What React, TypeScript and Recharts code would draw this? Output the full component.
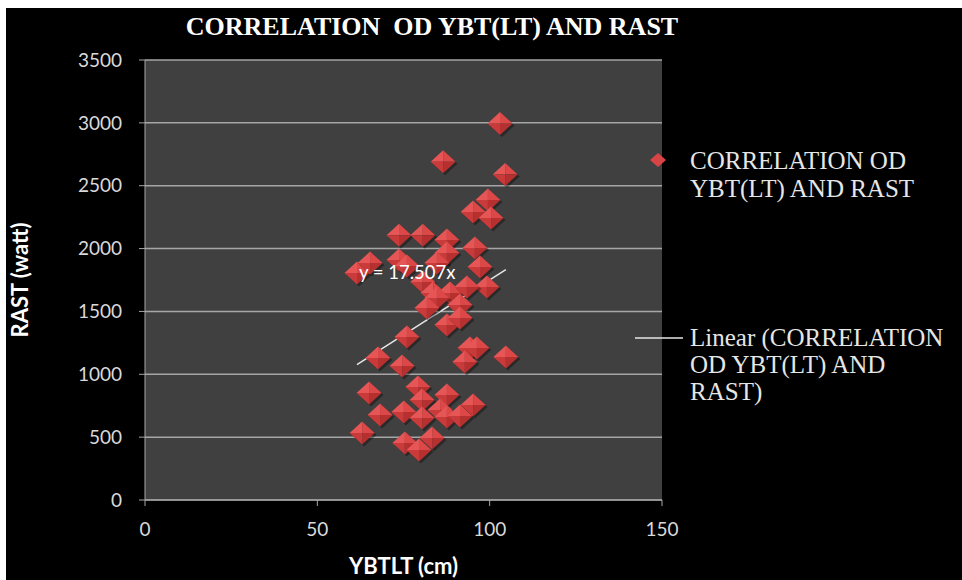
import React from 'react';
import { ScatterChart, Scatter, XAxis, YAxis, CartesianGrid, ReferenceLine, ReferenceDot, Legend } from 'recharts';

const ybtlt = [103, 86.5, 104.5, 99.5, 95.2, 100.4, 73.7, 80.6, 87.6, 87.6, 95.7, 61.5, 65.3, 73.7, 76, 84.7, 97.2, 80.6, 99.2, 83.6, 88.5, 93.4, 84.7, 81.8, 91.4, 87.6, 91.4, 76, 67.6, 74.6, 94.3, 96.3, 92.8, 104.7, 65, 79.2, 80.4, 87.6, 68.2, 75.1, 80.4, 85.6, 87.6, 91.4, 95.2, 63, 75.4, 83.3, 79.5];
const rast = [2995, 2690, 2590, 2387, 2291, 2243, 2105, 2105, 2068, 1965, 2005, 1806, 1885, 1909, 1861, 1885, 1853, 1734, 1694, 1647, 1647, 1694, 1607, 1527, 1551, 1392, 1448, 1297, 1130, 1066, 1209, 1209, 1098, 1138, 851, 899, 796, 835, 676, 700, 652, 716, 660, 668, 756, 533, 453, 493, 398];

const slope = 17.507;
const seriesName = 'CORRELATION OD YBT(LT) AND RAST';
const xTicks = [0, 50, 100, 150];
const yTicks = [0, 500, 1000, 1500, 2000, 2500, 3000, 3500];

const points = ybtlt.map((x, i) => ({ x, y: rast[i] }));
const xMin = Math.min(...ybtlt);
const xMax = Math.max(...ybtlt);

const Diamond = (props: any) => {
  const { cx, cy } = props;
  if (cx == null || cy == null) return null;
  const w = 12.5;
  const h = 11.5;
  return (
    <g>
      <polygon points={`${cx - w + 2},${cy + 2} ${cx + 2},${cy - h + 2} ${cx + w + 2},${cy + 2} ${cx + 2},${cy + h + 2}`} fill="rgba(0,0,0,0.35)" />
      <polygon points={`${cx - w},${cy} ${cx},${cy - h} ${cx},${cy}`} fill="#e65656" />
      <polygon points={`${cx},${cy - h} ${cx + w},${cy} ${cx},${cy}`} fill="#dc4848" />
      <polygon points={`${cx - w},${cy} ${cx},${cy} ${cx},${cy + h}`} fill="#c93a3a" />
      <polygon points={`${cx},${cy} ${cx + w},${cy} ${cx},${cy + h}`} fill="#b73030" />
    </g>
  );
};

const serif = '"Liberation Serif", "Times New Roman", serif';
const sans = 'Lato, "Open Sans", sans-serif';

const LegendContent = () => (
  <div style={{ position: 'relative', width: 0, height: 0 }}>
    <svg width={340} height={290} style={{ position: 'absolute', left: 0, top: 0, overflow: 'visible' }}>
      <g transform="translate(32,30)">
        <polygon points="-8,0 0,-7 8,0 0,7" fill="#d94444" />
      </g>
      <text x={64} y={39} fill="#e6e6e6" fontFamily={serif} fontSize={25}>CORRELATION OD</text>
      <text x={64} y={67} fill="#e6e6e6" fontFamily={serif} fontSize={25}>YBT(LT) AND RAST</text>
      <line x1={9} x2={57} y1={208} y2={208} stroke="#e6e6e6" strokeWidth={1.5} />
      <text x={64} y={216} fill="#e6e6e6" fontFamily={serif} fontSize={25}>Linear (CORRELATION</text>
      <text x={64} y={243} fill="#e6e6e6" fontFamily={serif} fontSize={25}>OD YBT(LT) AND</text>
      <text x={64} y={270} fill="#e6e6e6" fontFamily={serif} fontSize={25}>RAST)</text>
    </svg>
  </div>
);

export default function App() {
  return (
    <div style={{ position: 'absolute', left: 6, top: 8, width: 956, height: 572, background: '#000' }}>
      <div style={{ position: 'absolute', left: 0, top: 4, width: 852, textAlign: 'center', color: '#fff', fontFamily: serif, fontWeight: 'bold', fontSize: 26, zIndex: 2 }}>
        CORRELATION&nbsp; OD YBT(LT) AND RAST
      </div>
      <ScatterChart width={956} height={572} margin={{ top: 52, right: 300, bottom: 0, left: 0 }}>
        <CartesianGrid vertical={false} fill="#404040" stroke="#a6a6a6" strokeWidth={1.5} />
        <XAxis
          type="number"
          dataKey="x"
          domain={[0, 150]}
          ticks={xTicks}
          height={80}
          tickSize={6}
          tickMargin={17}
          stroke="#a6a6a6"
          tick={{ fill: '#d9d9d9', fontSize: 19, fontFamily: sans }}
          label={{ value: 'YBTLT (cm)', position: 'insideBottom', offset: 6, fill: '#fff', fontSize: 22, fontWeight: 'bold', fontFamily: sans }}
        />
        <YAxis
          type="number"
          dataKey="y"
          domain={[0, 3500]}
          ticks={yTicks}
          width={139}
          tickSize={6}
          tickMargin={17}
          stroke="#a6a6a6"
          tick={{ fill: '#d9d9d9', fontSize: 19, fontFamily: sans }}
          label={{ value: 'RAST (watt)', angle: -90, position: 'insideLeft', offset: 14, textAnchor: 'middle', fill: '#fff', fontSize: 22, fontWeight: 'bold', fontFamily: sans }}
        />
        <Legend
          layout="horizontal"
          verticalAlign="middle"
          align="center"
          content={LegendContent}
          wrapperStyle={{ position: 'absolute', left: 620, top: 122, width: 0, height: 0 }}
        />
        <Scatter name={seriesName} data={points} shape={Diamond} isAnimationActive={false} />
        <ReferenceLine
          segment={[{ x: xMin, y: slope * xMin }, { x: xMax, y: slope * xMax }]}
          stroke="#e6e6e6"
          strokeWidth={1.5}
        />
        <ReferenceDot
          x={61.5}
          y={1808}
          r={0}
          fill="none"
          stroke="none"
          label={{ value: 'y = 17.507x', position: 'right', offset: 2, fill: '#fff', fontSize: 18.5, fontFamily: sans }}
        />
      </ScatterChart>
    </div>
  );
}
